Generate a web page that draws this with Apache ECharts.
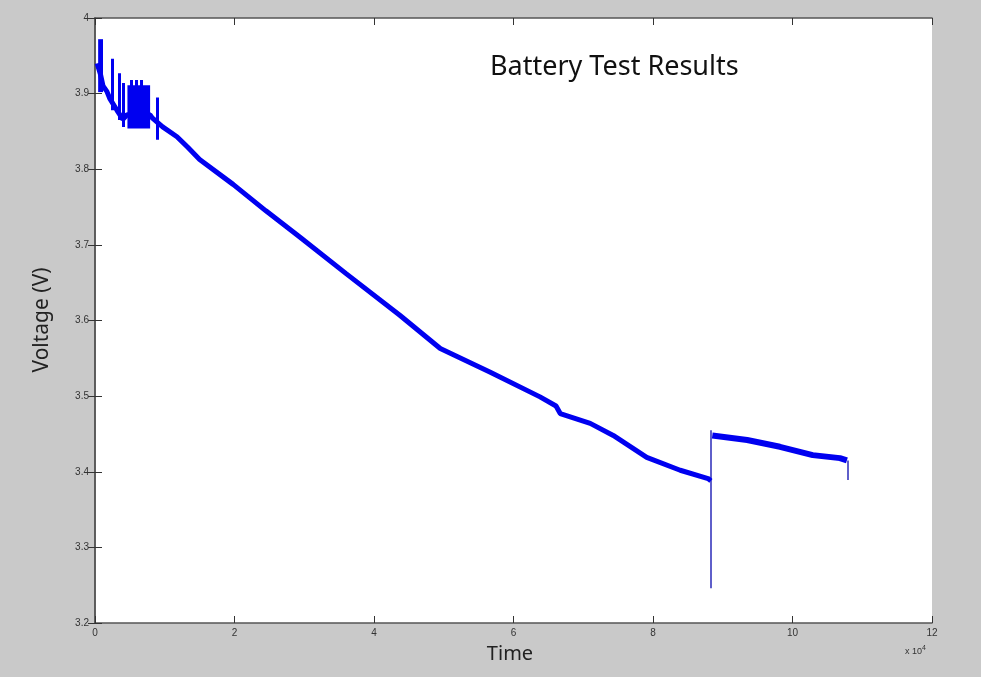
<!DOCTYPE html>
<html>
<head>
<meta charset="utf-8">
<title>Battery Test Results</title>
<script src="https://cdn.jsdelivr.net/npm/echarts@6/dist/echarts.min.js"></script>
<style>
  html, body { margin: 0; padding: 0; background: #c9c9c9; }
  #chart { width: 981px; height: 677px; }
</style>
</head>
<body>
<div id="chart"></div>
<script>
// time in seconds, voltage in V
var bandBefore = [
  [300, 3.940], [800, 3.925], [1150, 3.910], [1700, 3.903], [2150, 3.893],
  [3150, 3.878], [4000, 3.866], [4600, 3.872], [7900, 3.872], [8200, 3.868],
  [9700, 3.856], [11750, 3.843], [13300, 3.829], [15000, 3.813], [19800, 3.780],
  [24500, 3.745], [29400, 3.710], [36000, 3.662], [43700, 3.607], [49500, 3.563],
  [56600, 3.532], [63800, 3.499], [66100, 3.487], [66700, 3.477], [71000, 3.464],
  [74300, 3.448], [79100, 3.419], [83900, 3.402], [87900, 3.391], [88300, 3.388]
];
var bandAfter = [
  [88500, 3.448], [93500, 3.442], [98200, 3.433], [102900, 3.422],
  [106800, 3.418], [107800, 3.415]
];
// vertical transients at the start: [time, low, high]
var earlySpikes = [
  [2450, 3.878, 3.946], [3450, 3.865, 3.927], [4000, 3.856, 3.914],
  [5200, 3.905, 3.918], [5900, 3.905, 3.918], [6600, 3.905, 3.918],
  [8900, 3.839, 3.895]
];
// single-sample drops: [time, low, high]
var drops = [
  [88300, 3.246, 3.455], [107900, 3.389, 3.415]
];
// dense oscillation blocks: [t0, t1, low, high]
var blocks = [
  [450, 1150, 3.902, 3.972],
  [4650, 7900, 3.854, 3.911]
];

var BLUE = '#0000f0';
var chart = echarts.init(document.getElementById('chart'));

var axisLine = { show: true, lineStyle: { color: '#555', width: 1.5 } };
var tickIn = { show: true, inside: true, length: 7, lineStyle: { color: '#333' } };
var lbl = { color: '#333', fontSize: 10, fontFamily: 'Liberation Sans, Arial, sans-serif' };

function vlines(arr) {
  return arr.map(function (s) { return { coords: [[s[0], s[1]], [s[0], s[2]]] }; });
}

chart.setOption({
  backgroundColor: '#c9c9c9',
  animation: false,
  grid: {
    left: 95, right: 49, top: 18, bottom: 54,
    show: true, backgroundColor: '#fff', borderWidth: 0
  },
  xAxis: [{
    type: 'value', min: 0, max: 120000, interval: 20000,
    axisLine: axisLine, axisTick: tickIn, splitLine: { show: false },
    axisLabel: Object.assign({ margin: 5, formatter: function (v) { return v / 10000; } }, lbl)
  }, {
    type: 'value', position: 'top', min: 0, max: 120000, interval: 20000,
    axisLine: axisLine, axisTick: tickIn, splitLine: { show: false },
    axisLabel: { show: false }
  }],
  yAxis: [{
    type: 'value', min: 3.2, max: 4, interval: 0.1,
    axisLine: axisLine, axisTick: tickIn, splitLine: { show: false },
    axisLabel: Object.assign({ margin: 6, formatter: function (v) { return +v.toFixed(1); } }, lbl)
  }, {
    type: 'value', position: 'right', min: 3.2, max: 4, interval: 0.1,
    axisLine: axisLine, axisTick: tickIn, splitLine: { show: false },
    axisLabel: { show: false }
  }],
  graphic: [
    { type: 'text', left: 490, top: 54,
      style: { text: 'Battery Test Results', fill: '#111', font: '27px "Noto Sans", sans-serif' } },
    { type: 'text', x: 42, y: 320, rotation: Math.PI / 2,
      style: { text: 'Voltage (V)', fill: '#222', font: '21px "Noto Sans", sans-serif',
               align: 'center', verticalAlign: 'middle' } },
    { type: 'text', x: 510, y: 654,
      style: { text: 'Time', fill: '#222', font: '20px "Noto Sans", sans-serif',
               align: 'center', verticalAlign: 'middle' } },
    { type: 'text', left: 905, top: 645,
      style: { rich: { a: { fontSize: 9, fill: '#333', fontFamily: 'Liberation Sans' },
                       s: { fontSize: 7, fill: '#333', fontFamily: 'Liberation Sans', verticalAlign: 'top', padding: [0, 0, 6, 0] } },
               text: '{a|x 10}{s|4}' } }
  ],
  series: [{
    type: 'line', data: bandBefore, showSymbol: false, symbol: 'none',
    lineStyle: { color: BLUE, width: 5 }, itemStyle: { color: BLUE },
    markArea: {
      silent: true,
      itemStyle: { color: BLUE, opacity: 1 },
      data: blocks.map(function (b) {
        return [{ xAxis: b[0], yAxis: b[2] }, { xAxis: b[1], yAxis: b[3] }];
      })
    }
  }, {
    type: 'line', data: bandAfter, showSymbol: false, symbol: 'none',
    lineStyle: { color: BLUE, width: 6 }, itemStyle: { color: BLUE }
  }, {
    type: 'lines', coordinateSystem: 'cartesian2d', silent: true,
    lineStyle: { color: BLUE, width: 3, opacity: 1 },
    data: vlines(earlySpikes)
  }, {
    type: 'lines', coordinateSystem: 'cartesian2d', silent: true,
    lineStyle: { color: '#2a2ab8', width: 1.5, opacity: 1 },
    data: vlines(drops)
  }]
});
</script>
</body>
</html>
